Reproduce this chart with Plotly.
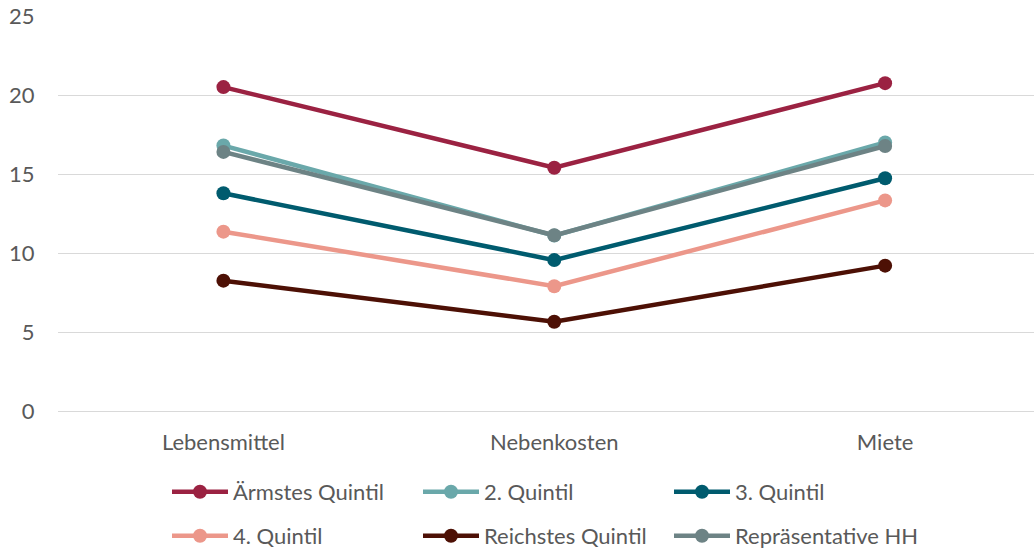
import plotly.graph_objects as go

categories = ["Lebensmittel", "Nebenkosten", "Miete"]
series_names = ["Ärmstes Quintil", "2. Quintil", "3. Quintil",
                "4. Quintil", "Reichstes Quintil", "Repräsentative HH"]
armstes = [20.5, 15.4, 20.75]
quintil2 = [16.8, 11.1, 17.0]
quintil3 = [13.78, 9.55, 14.73]
quintil4 = [11.35, 7.9, 13.33]
reichstes = [8.25, 5.65, 9.2]
repraes = [16.4, 11.12, 16.77]
values = [armstes, quintil2, quintil3, quintil4, reichstes, repraes]
colors = ["#9B2242", "#6AA8AA", "#005B6E", "#EC978A", "#4D1005", "#6D8385"]
y_ticks = [0, 5, 10, 15, 20, 25]

FONT = "Lato"
TXT = "#595959"
FS = 22

fig = go.Figure()
for i in range(6):
    fig.add_trace(go.Scatter(
        x=categories, y=values[i], name=series_names[i],
        mode="lines+markers",
        line=dict(color=colors[i], width=4.5),
        marker=dict(color=colors[i], size=14),
        legend="legend" if i < 3 else "legend2",
    ))

legend_common = dict(
    orientation="h", entrywidth=180, entrywidthmode="pixels",
    itemwidth=56, font=dict(family=FONT, size=FS, color=TXT),
    bgcolor="rgba(0,0,0,0)", xanchor="left", yanchor="middle",
    xref="container", yref="container",
    itemclick=False, itemdoubleclick=False,
)

fig.update_layout(
    width=1034, height=550,
    margin=dict(l=58, r=0, t=16, b=139, autoexpand=False),
    plot_bgcolor="white", paper_bgcolor="white",
    font=dict(family=FONT, size=FS, color=TXT),
    showlegend=True,
    legend=dict(x=167 / 1034, y=1 - 492 / 550, **legend_common),
    legend2=dict(x=167 / 1034, y=1 - 536 / 550, **legend_common),
    xaxis=dict(
        range=[-0.5, 2.45], showgrid=False, zeroline=False, showline=False,
        ticks="outside", ticklen=12, tickcolor="rgba(0,0,0,0)",
        tickfont=dict(family=FONT, size=FS, color=TXT),
    ),
    yaxis=dict(
        range=[0, 25], tickvals=y_ticks, showgrid=True, gridcolor="#D9D9D9",
        gridwidth=1, zeroline=True, zerolinecolor="#D9D9D9", zerolinewidth=1,
        showline=False, ticks="outside", ticklen=18, tickcolor="rgba(0,0,0,0)",
        tickfont=dict(family=FONT, size=FS, color=TXT),
    ),
)

fig.write_html("out.html")
